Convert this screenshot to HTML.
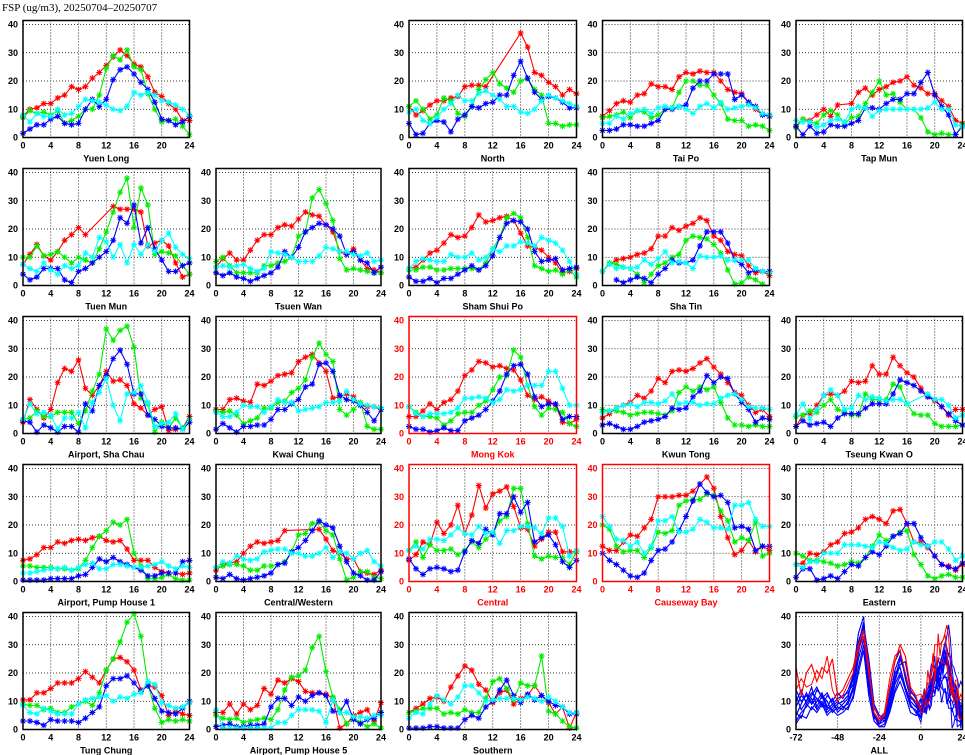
<!DOCTYPE html>
<html><head><meta charset="utf-8"><style>
html,body{margin:0;padding:0;background:#fff;}
svg{display:block;font-family:"Liberation Sans",sans-serif;}
</style></head><body>
<svg id="chart" width="965" height="755" viewBox="0 0 965 755" xmlns="http://www.w3.org/2000/svg">
<text x="2" y="11" font-size="11" font-family="Liberation Serif, serif">FSP (ug/m3), 20250704–20250707</text>
</svg>
<script>
const stationNames = ["Yuen Long","North","Tai Po","Tap Mun","Tuen Mun","Tsuen Wan","Sham Shui Po","Sha Tin","Airport, Sha Chau","Kwai Chung","Mong Kok","Kwun Tong","Tseung Kwan O","Airport, Pump House 1","Central/Western","Central","Causeway Bay","Eastern","Tung Chung","Airport, Pump House 5","Southern"];
const roadside = [false,false,false,false,false,false,false,false,false,false,true,false,false,false,false,true,true,false,false,false,false];
const hours = [0,1,2,3,4,5,6,7,8,9,10,11,12,13,14,15,16,17,18,19,20,21,22,23,24];
const xTicks = [0,4,8,12,16,20,24];
const yTicks = [0,10,20,30,40];
const allXTicks = [-72,-48,-24,0,24];
const N = null;
const redSeries = [
[7.5,10,10.5,12,12,14,15,18,17,18,21,23,25.5,28.5,31,29,26,25,21.5,16,14.5,12,10,6,6],
[11,8,9.5,11.5,13,13,14,14.5,18,18.5,18.5,18,N,N,N,N,37,32,23,22,19.5,18,15,17,15.5],
[7.5,9.5,12,13,12.5,15,15.5,19,18,18,17,21.5,23,22.5,23.5,23,23,20,17,16,15.5,12.5,10,8,8],
[4,6.5,6,8,10,7.5,11.5,N,12,16,17.5,15,17,18,19.5,20,21.5,18.5,17.5,15.5,15.5,13,11,6,5],
[7.5,11,14.5,10.5,9,12,16,18,20.5,18,N,N,N,28,27,27,27,26,14,15,16,14,8,3,4],
[6.5,9.5,11.5,9,9,12.5,16,18,18,20.5,21.5,21,23.5,26,25,24.5,21.5,19,12,11,13,9,6,5.5,4.5],
[6,6.5,9,11.5,12.5,15,18,17,17.5,20.5,25,22.5,23,24,24.5,23,18.5,14,13.5,12.5,10,8,4.5,5,6],
[5,7.5,9,9.5,10,11,11.5,13,17.5,17.5,20.5,19.5,21,22,24,23,17.5,16,12,11,10.5,7,4.5,5,3.5],
[4,12,8.5,5.5,8.5,18,23,22,26,16,13.5,17,22,18.5,19,17,10.5,9,6.5,8.5,9.5,1,1.5,2,6],
[8.5,8.5,12,12.5,11.5,11,17.5,17,18.5,20.5,21,21.5,25.5,27,28,25,22,12.5,13,14,13,10,9.5,9.5,8.5],
[6,6,8,10.5,8.5,11,12,15,20.5,22.5,25.5,25,23.5,24,23,22.5,19,13.5,12,13,11.5,10,4,3.5,5],
[5.5,7,9,10,11,13.5,12.5,15,19.5,18,22,22.5,22,23,25,26.5,23.5,21,18,14.5,13.5,10,7.5,8.5,6],
[2.5,6.5,7,10,13.5,14,13.5,15,18.5,18,18.5,24,21,21,27,24,21.5,20,16,13,11.5,9.5,6.5,8.5,8.5],
[7.5,8,9.5,12,12,14,13.5,14.5,15,14.5,15.5,16,14.5,14,14.5,11.5,7.5,7.5,7.5,5,3.5,3,3,2.5,3],
[4,6,6.5,7,10,12.5,14,13.5,14,14.5,18,N,N,N,N,18.5,15,11,10,8,8,3.5,3,2.5,4],
[7.5,9.5,14,13,21,17,20,27,17,23.5,34,26,31,32,33.5,26.5,19,18.5,12.5,15,17.5,17.5,10.5,10.5,10.5],
[12.5,11,11,14,16.5,16,19,22,30,30,30,30.5,30.5,32,34.5,37,33,23,15.5,9.5,11,14.5,10.5,12.5,11],
[6,6.5,10,9.5,10.5,13,14,17,17.5,19,22,23,22,20.5,25,25.5,20.5,14,14,12,9,6,5.5,4,6],
[10.5,10.5,13,13,14.5,16.5,16.5,16.5,18,20.5,18.5,16.5,21,25,25.5,24,21,14,15.5,15,12,5,6.5,5.5,5],
[6,6,9,5.5,9,7,8.5,14.5,12.5,17.5,16.5,18,17,13.5,13,13,12.5,11,0.5,2,5,6,7,3,9.5],
[6,7.5,9,11,11.5,10,15,19,22.5,21,16,14,9.5,13,14,9,11,12,15.5,12,9.5,5.5,8,0.5,6]
];
const greenSeries = [
[7,9.5,8.5,9,8,9.5,5,6,7.5,10,10,15,24.5,29,27.5,31,25,24,15.5,10,5.5,6,6.5,4,1],
[11,13,10,6.5,8,14,13,8.5,7.5,11,17,20.5,23,19,17.5,16,20,21,17,15,5,5,4,4.5,4.5],
[7,7.5,8,9,7,9.5,9,7,8,10,10.5,16,20,20,18.5,18.5,15,12,6.5,6,6,4,4.5,4,2.5],
[3.5,6.5,5.5,5,8,9.5,8,5,7,7.5,12,16,20,15,15.5,12.5,10,10,7,2,1,1.5,1,1,4.5],
[10,10,14,10.5,11,12,10,8,10,9,8,13,19,26,33,38,20.5,34.5,28.5,11,12,11.5,10.5,7,4],
[8.5,10,7,4.5,4.5,4.5,4.5,7,7,8,8.5,10,17.5,19,31,34,29,23,9.5,5.5,6,5.5,5,4.5,4.5],
[5.5,5.5,6.5,6.5,5.5,5.5,6,6,6,6,5.5,8,13,17,24,25.5,24,17,7,6,5,5.5,4,5.5,3],
[5,8,7.5,6.5,6,4,1,4,7,8,10,11,16,17.5,17,16.5,14.5,11.5,5.5,0.5,1,3,2,0.5,N],
[5,5.5,8,6,6,7.5,7.5,7.5,3.5,8,15,21,37,33,36.5,38,30.5,12.5,10.5,0.5,4,2,5.5,2,5],
[8,7.5,8,6.5,3.5,4.5,5.5,9,9,11,11.5,14.5,16,19,27,32,28,25.5,8.5,6.5,8.5,11,2.5,1.5,1.5],
[9.5,7.5,6,6,5.5,3,4.5,7,7.5,7.5,10,11.5,15.5,20,20.5,29.5,27,17,9.5,6.5,9,8.5,7.5,3.5,2.5],
[8.5,8,8,7.5,6.5,7,7.5,7.5,7,6.5,8,14.5,16.5,15,16.5,15.5,16.5,11,5.5,3,3,2.5,3,2.5,2.5],
[6,6.5,8,7.5,10,12,8.5,7.5,6.5,6.5,14,12,12,12,17.5,16.5,10.5,7,6.5,6.5,3.5,2.5,2.5,2.5,3],
[5.5,5.5,5,5,5,4.5,4.5,4,4.5,7.5,12,16,18,21,20,22,10,5.5,1,1,1.5,2.5,1,0.5,0.5],
[5,5.5,6,6,5.5,4,4,5.5,5.5,6,7,10.5,16.5,17,20.5,21,18,16.5,8,0.5,1.5,3.5,3.5,1.5,1],
[11,14,8.5,13,11,11,11.5,9.5,11,14,12,15,17,21.5,23,33,33,20.5,9,8,9,8.5,8.5,6,10.5],
[20,18.5,12.5,10.5,11,11,8.5,12,17.5,17,18,27,28.5,29,29,31,30.5,25,21.5,14,15.5,14.5,21,9,10],
[10,9,7.5,7.5,7,6.5,5.5,6,7,6.5,8.5,12.5,16.5,14.5,16,17.5,18,9.5,6,2,1,2,2.5,1.5,1.5],
[9,8.5,8.5,7,7.5,6,6,8,9,10,8.5,13,21,25,31,38,41,33,16,7.5,2.5,3.5,3,3.5,3],
[5,4,3.5,4,2.5,3,3.5,4,3.5,7,14,18.5,19,21,29,33,20.5,11.5,7,2,4,2.5,1,2,0.5],
[6,6.5,7.5,7.5,7.5,5.5,6,5.5,7,6,6,11,17,18,14.5,10.5,16.5,15.5,15.5,26,6.5,5.5,3,1,0.5]
];
const blueSeries = [
[1.5,3,4.5,4.5,6.5,7.5,5,4.5,5,10,13.5,11,13.5,20.5,24,25,22.5,19.5,17,12.5,6.5,6,4.5,5.5,7.5],
[5,1,1.5,5,6,5.5,2,6.5,8,11,10.5,12,12.5,15,15,22,27,21,16,13.5,14.5,14,12.5,10.5,10.5],
[2.5,2.5,3,4.5,4.5,4,4,5,6,10,10,11,11.5,17.5,20,20,22.5,22.5,22.5,13.5,15,12.5,11,8,7.5],
[4,1,4,1.5,2,4.5,4,4,5,6,10.5,10.5,10,12,13.5,13.5,15.5,15.5,19.5,23,15,11,8,1,4],
[4,2,3,6,6,6,2,1,5,6,8,10,12,16,24,22,28.5,15,20.5,13,9,5,5,7,8],
[4.5,3.5,4.5,3,2.5,1.5,2.5,3.5,4.5,6.5,12,10,13.5,19,20.5,22,21.5,20,17.5,11,12,9,8,4.5,6.5],
[3,1.5,1.5,2.5,1,2.5,2.5,4,5.5,7,5.5,7,10.5,17,22,23,22.5,20,12,8.5,9,9.5,5.5,6,6.5],
[N,N,2,1,2,3,2.5,1,4,6,9,8,8,9,14,19,19,19,15,9,7.5,4.5,5.5,5,5],
[4.5,4,0.5,3,2,0.5,2.5,2.5,0.5,10.5,8,17,20.5,26.5,29.5,24.5,14,14,6.5,5,2.5,2,2,1.5,4],
[1.5,3.5,2,0.5,2.5,2.5,3,3,5,8.5,8.5,10.5,12,16.5,17.5,24.5,25,22,13.5,12,11.5,10,7.5,4.5,8.5],
[2.5,1.5,1.5,0.5,1,2,1,1,4.5,5.5,6.5,8.5,11.5,15,21,24,24.5,21,13,9.5,10.5,10.5,5,6,6],
[3,3.5,2.5,1.5,1.5,2.5,4,4.5,5,6,9,8.5,9,13,15,20.5,18,20,19.5,14,11,8.5,4,5.5,5],
[2.5,4.5,3,3.5,4,2.5,5.5,7,7,7,9,10.5,10.5,10.5,14,19,18,17,15,13,12,9.5,7,4.5,3],
[0.5,0.5,0.5,0.5,1,1,1,1,2,2.5,5,8,7,8.5,7,6,5,4,2,2,3,3,3,7,7.5],
[1.5,1,2.5,1,0.5,1,1.5,2,3,6,6.5,10.5,12,14.5,18,21.5,20,19,12.5,7,3,2,0.5,0.5,3.5],
[8,4.5,2.5,4.5,5,4.5,3.5,4,10.5,14.5,13.5,18.5,16.5,24,24,30,24.5,28,14,15.5,16.5,13,7,5,7.5],
[10,7.5,6,4,2,1.5,3,7.5,11,11.5,14,18,23,28.5,34.5,31.5,30,30.5,28,19,19.5,18.5,11,12.5,12.5],
[1.5,4.5,4.5,0.5,1,2,1,3.5,6,5.5,8.5,10.5,9.5,12.5,16,17,20.5,20.5,15.5,12.5,9,6,5,4.5,6.5],
[3,3,2.5,1.5,3.5,3,3,3,2.5,4,6,8,15.5,18,18,19,16.5,13.5,15.5,11,6.5,6,5.5,7.5,10],
[1,1.5,2,1,1,1.5,1.5,2,8,11,11,8.5,11.5,10,12,13,12,6.5,6,10,3.5,2,3.5,4,6],
[0.5,0.5,0.5,1,1,0.5,0.5,0.5,3.5,5,4,8,10,14,17.5,12,9.5,12.5,10.5,12,10,8.5,8,5.5,5.5]
];
const cyanSeries = [
[8,5.5,8.5,7.5,7.5,10,8,8.5,11,13.5,13,12.5,11.5,10,9.5,11,16,15,16,15,13,12.5,11.5,10,8],
[9,10,6,5,7,10,12,15,13,13,15.5,16.5,15,13.5,11,11,9,8.5,10,13,15,14,13,12,11],
[5,5,7.5,6.5,8.5,9.5,10,8.5,10.5,11,10.5,11,10,8.5,11,12,10.5,12.5,10,10.5,11,11.5,10.5,8.5,8],
[6,5.5,5.5,3.5,4.5,6,6.5,5.5,10,11,10.5,7.5,9.5,10,10,10,10,10,10,10.5,12.5,10,10,4.5,4],
[7.5,6,5,8,5.5,4,7,6,7,11.5,10,17,15.5,10,14.5,8,14.5,11,14.5,12,16,18.5,13.5,11,9.5],
[6.5,7,6.5,7,7.5,6,5,6,12,11.5,11,10,8.5,8.5,8.5,10.5,13.5,13,12,12,11,10.5,11.5,8.5,9],
[6,8.5,9.5,9,8.5,8.5,11,10,10,11.5,9,10,13,12,14,14,15.5,15,14,17,16,15,12.5,8.5,4],
[5,7.5,6,6.5,6,6.5,9,7.5,9.5,12,8,8.5,8,6,10.5,10,10,10.5,9,9,9,9,6,5,4.5],
[5,10.5,7,7.5,6.5,1.5,5.5,5.5,7.5,2,11,14.5,19.5,10,4.5,14,14.5,17,11,2.5,3.5,4,7,1.5,5],
[7.5,6,6,7.5,10,9.5,9.5,7.5,9.5,12,11,11,8,8.5,9,9.5,11,11,11.5,15,12,10.5,10,9.5,9],
[9.5,7,6,7,7,7,7.5,9,12.5,12.5,13,12.5,11,12,15.5,15,15.5,17,17,17,22,22,16,10,10],
[7.5,8,9,10,10.5,9.5,11,11,10.5,11.5,14,10.5,11,11,10,10.5,10.5,12.5,13.5,14,12,9.5,9,9,8.5],
[6.5,10.5,5,8.5,13.5,15.5,13.5,8.5,9,13.5,12,13,12.5,11.5,12,12,10.5,N,N,14,12,12,10,5.5,6.5],
[3,3,3.5,4,4.5,4.5,5,4,5,6,6.5,4.5,4.5,6,6,5.5,5,5,5.5,6,7,5.5,4.5,5.5,5],
[5,7,6.5,9,8,7.5,8,10.5,11,11.5,11.5,10,10,9,9,10,12,8.5,10.5,10,8,10,11,7,5.5],
[11,12.5,11.5,15,15,14.5,16.5,19,17,16.5,19.5,17,17.5,13.5,18,18,19.5,19.5,19,17,22.5,22.5,19.5,9,11],
[23,19.5,15,14.5,12.5,14,10,12.5,21.5,21.5,23,17.5,17.5,18.5,22,21,19,19,18.5,27,27,28,22,19.5,19.5],
[6,5,7,7,10,10,10,13,13,13,12.5,12,14,13.5,12,11,11.5,14,13,12.5,14,14,11.5,7.5,9],
[8.5,6,5.5,7.5,6.5,5.5,5.5,5.5,9,10.5,11,11.5,12,10,11.5,11,12.5,13,17,16,9.5,8.5,7.5,8,9.5],
[7,0.5,0.5,0.5,0.5,0.5,0.5,0.5,0.5,2.5,2.5,5,7,7,7,6.5,2.5,10.5,6,6,4.5,4.5,4,5,5],
[4,6,5.5,9,12,10.5,9,11.5,15.5,15.5,13,10,10.5,11,11,11,10.5,11.5,11,10,11.5,10,8,6,6]
];
// earlier 72h (3-hourly, -72..0) profiles used in the ALL panel
const earlierHours = [-72,-69,-66,-63,-60,-57,-54,-51,-48,-45,-42,-39,-36,-33,-30,-27,-24,-21,-18,-15,-12,-9,-6,-3,0];
const earlierA = [8,12,10,13,11,9,8,7,9,10,12,18,30,38,20,6,3,4,10,18,25,20,12,9,9];
const earlierB = [5,9,13,9,14,12,10,6,8,7,10,15,28,35,18,5,2,5,12,20,22,15,10,8,8];
const earlierC = [12,7,10,15,8,12,7,9,7,9,11,20,34,40,15,4,3,6,14,24,28,18,11,10,10];
const earlierD = [3,6,8,11,7,10,6,8,10,8,9,14,25,32,14,6,2,3,8,16,20,14,8,7,7];
const earlierE = [10,14,9,12,15,11,13,9,11,12,13,16,27,36,22,8,4,3,9,17,23,24,14,11,12];
const earlierF = [6,4,9,7,10,13,8,11,6,8,7,12,22,30,16,5,1,2,7,14,19,15,9,6,8];
const earlierG = [14,10,12,9,11,8,12,10,13,11,14,19,31,37,25,9,5,4,11,21,26,19,13,12,11];
const earlierH = [2,5,4,8,6,9,5,7,5,6,8,11,20,28,12,3,1,1,6,13,17,12,6,5,6];
const earlierRoadA = [22,12,20,23,17,22,20,25,12,14,18,22,30,35,22,6,3,5,15,24,30,26,15,12,12];
const earlierRoadB = [14,18,15,16,21,18,26,14,10,12,16,20,28,33,20,8,4,6,18,26,28,20,12,10,11];

const panelPos = [[0,0],[0,2],[0,3],[0,4],[1,0],[1,1],[1,2],[1,3],[2,0],[2,1],[2,2],[2,3],[2,4],[3,0],[3,1],[3,2],[3,3],[3,4],[4,0],[4,1],[4,2]];
const colLeft = [23,216,409,602.5,796];
const colWidth = [166.5,165,167.5,167,166.5];
const NS = "http://www.w3.org/2000/svg";
const svg = document.getElementById('chart');
function mk(tag, attrs, parent){const e=document.createElementNS(NS,tag);for(const k in attrs)e.setAttribute(k,attrs[k]);(parent||svg).appendChild(e);return e;}
const seriesColors = ["#ff0000","#00ee00","#0000ff","#00ffff"];
const seriesKeys = ["red","green","blue","cyan"];
function axes(r,c){
  const x0=colLeft[c], w=colWidth[c], y0=137.5+148*r, y40=24.5+148*r;
  return {x0,w,y0,y40,top:y40-4,
    sx:(h,min,max)=>x0+(h-min)/(max-min)*w,
    sy:v=>y0-(v/40)*(y0-y40)};
}
function frame(g,a,isRed,ticks,tmin,tmax,title){
  const col=isRed?"#ff0000":"#000";
  const grid=mk('g',{stroke:'#000','stroke-width':0.8,'stroke-dasharray':'1,2'},g);
  
  
  ticks.forEach(t=>{if(t>tmin&&t<tmax){const x=a.sx(t,tmin,tmax);mk('line',{x1:x,x2:x,y1:a.top,y2:a.y0},grid);}});
  yTicks.forEach(t=>{if(t>0){const y=a.sy(t);mk('line',{x1:a.x0,x2:a.x0+a.w,y1:y,y2:y},grid);}});
  const xl=mk('g',{'font-size':9,'font-weight':'bold',fill:col,'text-anchor':'middle'},g);
  
  
  ticks.forEach(t=>{const tx=mk('text',{x:a.sx(t,tmin,tmax),y:a.y0+11},xl);tx.textContent=t;});
  const yl=mk('g',{'font-size':9,'font-weight':'bold',fill:col,'text-anchor':'end'},g);
  
  
  yTicks.forEach(t=>{const tx=mk('text',{x:a.x0-5,y:a.sy(t)+3},yl);tx.textContent=t;});
  const tl=mk('text',{x:a.x0+a.w/2,y:a.y0+24,'font-size':9,'font-weight':'bold',fill:col,'text-anchor':'middle'},g);
  tl.textContent=title;
  
  
}
function border(g,a,isRed){
  const b=mk('rect',{x:a.x0,y:a.top,width:a.w,height:a.y0-a.top,fill:'none',stroke:isRed?'#ff0000':'#000','stroke-width':1.5},g);
  
  
}
stationNames.forEach((name,i)=>{
  const [r,c]=panelPos[i]; const a=axes(r,c);
  const g=mk('g',{});
  
  
  frame(g,a,roadside[i],xTicks,0,24,name);
  [redSeries,greenSeries,blueSeries,cyanSeries].forEach((S,k)=>{
    const vals=S[i]; const pts=[];
    vals.forEach((v,h)=>{if(v!==null)pts.push([a.sx(hours[h],0,24),a.sy(v)]);});
    const sg=mk('g',{stroke:seriesColors[k],fill:'none','stroke-width':1.1},g);
    
    
    const line=mk('polyline',{points:pts.map(p=>p[0].toFixed(1)+','+p[1].toFixed(1)).join(' ')},sg);
    
    
    let d='';
    pts.forEach(([x,y])=>{d+=`M${x-3},${y}h6M${x},${y-3}v6M${x-2.2},${y-2.2}l4.4,4.4M${x-2.2},${y+2.2}l4.4,-4.4`;});
    const m=mk('path',{d:d,'stroke-width':1},sg);
    
    
  });
  border(g,a,roadside[i]);
});
// ALL panel
(function(){
  const a=axes(4,4);
  const g=mk('g',{});
  
  
  frame(g,a,false,allXTicks,-72,24,'ALL');
  const clip=mk('clipPath',{id:'allclip'},g);
  mk('rect',{x:a.x0,y:a.top,width:a.w,height:a.y0-a.top},clip);
  const lg=mk('g',{'clip-path':'url(#allclip)',fill:'none','stroke-width':1},g);
  
  
  const normal=[earlierA,earlierB,earlierC,earlierD,earlierE,earlierF,earlierG,earlierH];
  const order=stationNames.map((n,i)=>i).sort((p,q)=>roadside[p]-roadside[q]);
  let ni=0, ri=0;
  order.forEach(i=>{
    const early=roadside[i]?[earlierRoadA,earlierRoadB][ri++%2]:normal[ni++%8];
    const pts=[];
    early.forEach((v,k)=>{if(k<early.length-1)pts.push([a.sx(earlierHours[k],-72,24),a.sy(v)]);});
    redSeries[i].forEach((v,h)=>{if(v!==null)pts.push([a.sx(hours[h],-72,24),a.sy(v)]);});
    const pl=mk('polyline',{points:pts.map(p=>p[0].toFixed(1)+','+p[1].toFixed(1)).join(' '),stroke:roadside[i]?'#ff0000':'#0000ff'},lg);
    
    
  });
  border(g,a,false);
})();
</script>
</body></html>
